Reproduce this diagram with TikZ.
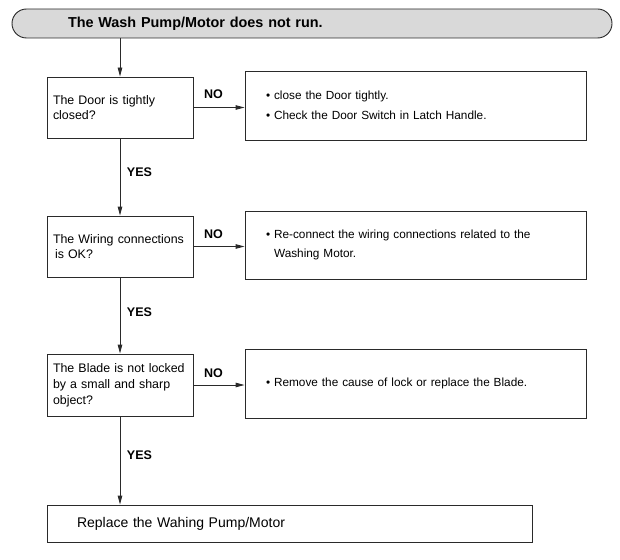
\documentclass[tikz,border=0pt]{standalone}
\usepackage{fontspec}
\setmainfont{Liberation Sans}
\usetikzlibrary{arrows.meta,calc}
\definecolor{lc}{HTML}{2A2A2A}
\definecolor{tfill}{HTML}{D9D9D9}
\tikzset{
  arr/.style={draw=lc, line width=0.9pt, -{Triangle[length=9pt,width=4.5pt]}},
  lbox/.style={draw=lc, line width=0.9pt, minimum width=146pt, text width=134pt, inner xsep=6pt, align=left, font=\fontsize{12.4}{15.8}\selectfont},
  rbox/.style={draw=lc, line width=0.9pt, minimum width=341pt, text width=299pt, inner xsep=21pt, align=left, font=\fontsize{11.8}{19.5}\selectfont},
  fbox/.style={draw=lc, line width=0.9pt, minimum width=485pt, minimum height=37pt, text width=425pt, inner xsep=30pt, align=left, font=\fontsize{14}{16}\selectfont},
  titlebox/.style={draw=lc, line width=0.9pt, fill=tfill, minimum width=600pt, minimum height=29pt, rounded corners=14.5pt, text width=488pt, inner xsep=56pt, align=left, font=\bfseries\fontsize{14.4}{16}\selectfont},
  lab/.style={font=\bfseries\fontsize{12.5}{14}\selectfont, inner sep=0pt}
}
\begin{document}
\begin{tikzpicture}[x=1pt,y=-1pt]
\useasboundingbox (0,0) rectangle (620,559);
\node[titlebox] (t) at (312,23.5) {The Wash Pump/Motor does not run.};
\node[lbox, minimum height=61pt] (d1) at (120,107.5) {The Door is tightly\\closed?};
\node[lbox, minimum height=61pt] (d2) at (120,246.5) {The Wiring connections\\\hspace*{2pt}is OK?};
\node[lbox, minimum height=62pt] (d3) at (120,385) {The Blade is not locked\\by a small and sharp\\object?};
\node[rbox, minimum height=69pt] (r1) at (415.5,105.5) {• close the Door tightly.\\• Check the Door Switch in Latch Handle.};
\node[rbox, minimum height=68pt] (r2) at (415.5,245) {• Re-connect the wiring connections related to the\\\hphantom{• }Washing Motor.};
\node[rbox, minimum height=69pt] (r3) at (415.5,383.5) {• Remove the cause of lock or replace the Blade.};
\node[fbox] (f) at (289.5,523.5) {Replace the Wahing Pump/Motor};
\node[lab] (n1) at (213.5,94) {NO};
\node[lab] (n2) at (213.5,234) {NO};
\node[lab] (n3) at (213.5,373) {NO};
\node[lab] (y1) at (139.5,172) {YES};
\node[lab] (y2) at (139.5,312) {YES};
\node[lab] (y3) at (139.5,455) {YES};
\draw[arr] (d1.north |- t.south) -- (d1.north);
\draw[arr] (d1.south) -- (d2.north);
\draw[arr] (d2.south) -- (d3.north);
\draw[arr] (d3.south) -- (d3.south |- f.north);
\draw[arr] (d1.east) -- (r1.west |- d1.east);
\draw[arr] (d2.east) -- (r2.west |- d2.east);
\draw[arr] (d3.east) -- (r3.west |- d3.east);
\end{tikzpicture}
\end{document}
